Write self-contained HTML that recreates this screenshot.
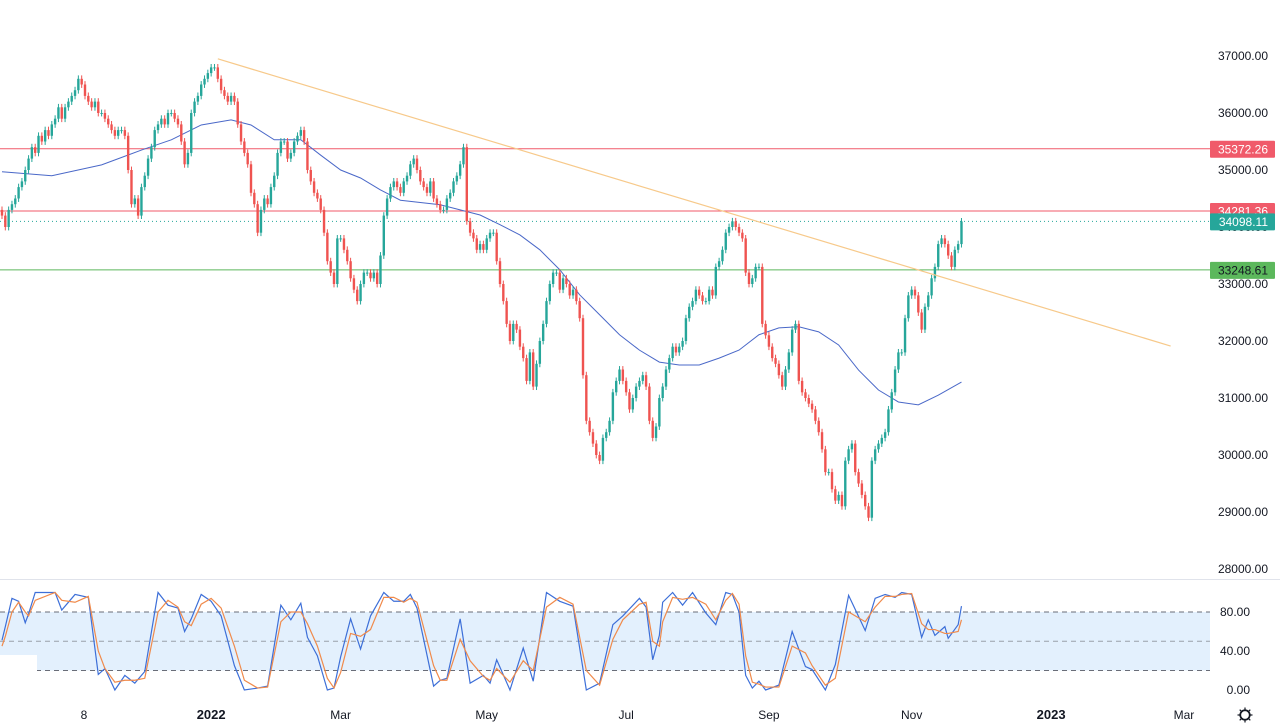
<!DOCTYPE html>
<html><head><meta charset="utf-8"><style>
html,body{margin:0;padding:0;background:#fff;width:1280px;height:728px;overflow:hidden;font-family:"Liberation Sans",sans-serif}
svg text{font-family:"Liberation Sans",sans-serif;font-size:12px;fill:#131722}
</style></head><body>
<svg id="chart" width="1280" height="728" xmlns="http://www.w3.org/2000/svg"></svg>
<script>
const closes=[342,340,343,344,345,347,348,350,352,354,353,356,355,357,356,358,359,361,359,361,362,363,364,366,365,363,362,361,362,360,360,359,358,357,356,357,357,356,350,344,345,342,347,349,352,354,357,358,359,358,360,360,359,358,355,351,353,360,362,363,365,366,367,368,368,366,364,363,362,363,362,358,355,353,351,346,344,339,343,345,344,347,349,353,355,355,352,353,355,356,357,355,350,348,346,345,343,339,334,332,330,338,338,336,334,331,329,327,330,332,332,331,332,330,335,342,345,347,348,347,346,348,349,351,352,350,348,347,346,348,345,344,343,343,345,346,348,349,351,354,341,339,338,336,337,336,338,339,339,334,330,327,323,320,323,322,319,317,313,318,312,316,320,323,327,330,332,332,329,331,330,328,329,327,324,314,306,304,302,300,299,303,304,306,311,313,315,313,311,308,310,312,313,314,312,306,303,305,310,312,315,317,319,318,319,320,324,326,327,329,328,327,327,329,328,333,334,336,339,340,341,340,339,338,332,330,331,333,333,323,321,319,317,316,314,312,315,318,322,323,313,311,310,309,308,306,304,301,297,297,294,292,293,291,299,301,302,297,295,293,291,289,299,301,302,303,304,308,311,315,318,318,324,328,329,328,325,322,326,328,331,333,337,338,337,335,333,336,337,340.98];
const maBars=[0,15,30,42,51,60,69,75,82,90,96,102,108,114,120,132,138,144,150,156,162,168,174,180,186,192,198,204,210,216,222,228,234,240,246,252,258,264,270,276,282,289];
const maVals=[349.7,349.0,350.9,353.5,355.3,357.9,358.8,357.9,355.3,355.3,352.6,350.0,348.6,346.5,344.7,343.9,343.0,342.1,340.4,338.6,336.0,332.5,328.1,324.6,321.1,318.4,316.3,315.8,315.8,317.0,318.4,321.1,322.3,322.5,321.6,319.3,314.9,311.4,309.3,308.8,310.5,312.8];
const kBars=[0,1,3,5,7,8,10,16,18,22,26,29,31,34,37,40,43,47,50,53,55,57,60,63,66,70,73,77,80,84,87,90,92,95,98,100,102,105,108,111,115,118,121,123,125,130,132,134,138,141,145,147,149,153,157,160,164,168,172,176,180,184,187,192,194,196,198,199,202,205,208,212,215,218,220,222,224,226,228,230,234,238,242,244,248,251,255,260,263,266,269,271,274,277,279,281,284,285,288,289];
const kVals=[51,65,94,91,69,78,100,100,82,98,95,16,22,0,15,7,19,100,87,84,60,73,98,91,76,25,0,2,4,87,72,89,54,35,0,2,34,73,42,76,100,91,91,98,84,4,10,12,73,7,15,7,31,0,43,9,100,91,86,0,7,67,76,94,85,31,56,90,100,87,100,79,67,100,98,80,15,2,9,0,5,60,24,21,0,26,97,61,94,98,95,100,98,54,72,56,65,53,67,86];
const dVals=[45,55,80,90,80,76,92,100,92,90,96,40,22,8,10,10,12,80,92,85,70,66,88,94,84,45,10,2,3,70,80,80,68,45,12,2,18,58,55,62,95,95,90,94,90,25,10,10,52,30,14,10,22,8,30,20,85,95,88,20,5,52,72,88,90,50,45,70,95,93,95,88,72,92,99,88,35,8,6,3,3,45,38,25,5,12,80,70,85,96,96,98,99,68,62,62,58,58,60,72];
const priceTicks=[37000,36000,35000,34000,33000,32000,31000,30000,29000,28000];
const stochTicks=[80,40,0];
const timeBars=[24.7,63,102,146,188,231,274,316,356];
const timeLabels=["8","2022","Mar","May","Jul","Sep","Nov","2023","Mar"];
const trendBars=[65,352];
const trendVals=[36950,31912];
const levels=[35372.26,34281.36,33248.61];
const levelColors=["#f05a6a","#f05a6a","#5cb85c"];
const lastPrice=34098.11;

const NS="http://www.w3.org/2000/svg";
const svg=document.getElementById('chart');
const xb=i=>2+i*3.32;
const py=p=>56+(37000-p)*0.057;
const sy=v=>690-v*0.975;
function mk(t,a,parent){const e=document.createElementNS(NS,t);for(const k in a)e.setAttribute(k,a[k]);(parent||svg).appendChild(e);return e;}

let band=mk('rect',{x:0,y:sy(80),width:1210,height:sy(20)-sy(80),fill:'#e3f0fd'});


[80,50,20].forEach(v=>{let l=mk('line',{x1:0,x2:1210,y1:sy(v),y2:sy(v),stroke:v==50?'#9aa0aa':'#6a6d78','stroke-dasharray':'5,4','stroke-width':1});

});
let cover=mk('rect',{x:0,y:655,width:37,height:35,fill:'#fff'});


let sep=mk('line',{x1:0,x2:1280,y1:579.5,y2:579.5,stroke:'#e0e3eb'});



priceTicks.forEach(p=>{let t=mk('text',{x:1268,y:py(p)+4,'text-anchor':'end'});t.textContent=p.toFixed(2);

});
stochTicks.forEach(v=>{let t=mk('text',{x:1250,y:sy(v)+4,'text-anchor':'end'});t.textContent=v.toFixed(2);

});
timeBars.forEach((b,i)=>{let t=mk('text',{x:xb(b),y:719,'text-anchor':'middle'});t.textContent=timeLabels[i];
if(timeLabels[i]=="2022"||timeLabels[i]=="2023")t.setAttribute('style','font-weight:bold;font-size:13px');

});

levels.forEach((p,i)=>{let l=mk('line',{x1:0,x2:1210,y1:py(p),y2:py(p),stroke:levelColors[i],'stroke-width':1});

});
let dl=mk('line',{x1:0,x2:1210,y1:py(lastPrice),y2:py(lastPrice),stroke:'#26a69a','stroke-dasharray':'1,3'});



let mp=mk('polyline',{points:maBars.map((b,i)=>xb(b)+','+py(maVals[i]*100)).join(' '),fill:'none',stroke:'#4a68c8','stroke-width':1});



const g=mk('g',{});


closes.forEach((c,i)=>{
 const cl=c*100, op=(i==0?closes[0]+1:closes[i-1])*100;
 const up=cl>=op, col=up?'#26a69a':'#ef5350', x=xb(i);
 const hi=Math.max(op,cl)+60, lo=Math.min(op,cl)-60;
 const w=mk('line',{x1:x,x2:x,y1:py(hi),y2:py(lo),stroke:col,'stroke-width':1},g);
 
 
 const top=py(Math.max(op,cl)),h=Math.max(1,py(Math.min(op,cl))-top);
 const r=mk('rect',{x:x-1.2,y:top,width:2.4,height:h,fill:col},g);
 
 
});

let tl=mk('line',{x1:xb(trendBars[0]),y1:py(trendVals[0]),x2:xb(trendBars[1]),y2:py(trendVals[1]),stroke:'#f7c98a','stroke-width':1.2});



let kl=mk('polyline',{points:kBars.map((b,i)=>xb(b)+','+sy(kVals[i])).join(' '),fill:'none',stroke:'#3d6fd8','stroke-width':1.2});


let dlp=mk('polyline',{points:kBars.map((b,i)=>xb(b)+','+sy(dVals[i])).join(' '),fill:'none',stroke:'#f08a4b','stroke-width':1.2});



const lbl=[[levels[0],'#f05a6a'],[levels[1],'#f05a6a'],[lastPrice,'#26a69a'],[levels[2],'#5cb85c']];
lbl.forEach(([p,c])=>{let y=py(p);
 let r=mk('rect',{x:1210,y:y-8,width:65,height:17,fill:c,rx:1});
 
 
 let t=mk('text',{x:1268,y:y+4.5,'text-anchor':'end',style:'fill:'+(c=='#5cb85c'?'#131722':'#fff')});t.textContent=p.toFixed(2);
 
 });

let gear=mk('g',{});


mk('circle',{cx:1245,cy:715,r:5,fill:'none',stroke:'#131722','stroke-width':1.3},gear);
[0,45,90,135].forEach(a=>{const r=a*Math.PI/180;mk('line',{x1:1245+Math.cos(r)*7.5,y1:715+Math.sin(r)*7.5,x2:1245-Math.cos(r)*7.5,y2:715-Math.sin(r)*7.5,stroke:'#131722','stroke-width':1.2},gear);});
mk('circle',{cx:1245,cy:715,r:4,fill:'#fff'},gear);
mk('circle',{cx:1245,cy:715,r:4.5,fill:'none',stroke:'#131722','stroke-width':1.2},gear);
</script>
</body></html>
